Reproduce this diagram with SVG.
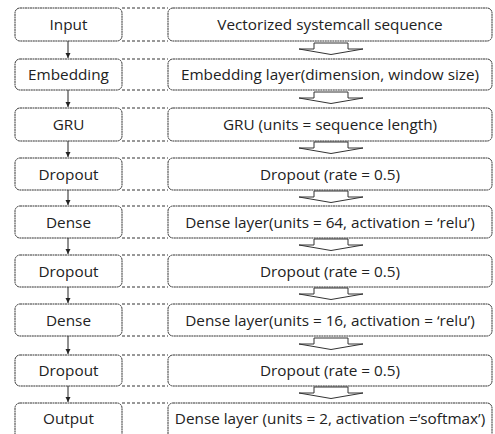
<svg xmlns="http://www.w3.org/2000/svg" width="495" height="434" viewBox="0 0 495 434">
<style>
.b{fill:#fff;stroke:#333;stroke-width:1;stroke-dasharray:2 0.5}
.d{stroke:#333;stroke-width:1;stroke-dasharray:3 2;fill:none}
.t{font-family:"Open Sans","Noto Sans",sans-serif;font-size:15.3px;fill:#222;text-anchor:middle}
.a{stroke:#222;stroke-width:1;fill:none}
.h{fill:#fff;stroke:#333;stroke-width:1}
</style>
<defs>
<path id="ha" d="M-32,0 L-17,0 L-17,-6 L17,-6 L17,0 L32,0 L0,5.5 Z"/>
</defs>
<g id="connectors">
<g class="d">
<path d="M122,8H168M122,41H168"/>
<path d="M122,59H168M122,90H168"/>
<path d="M122,108H168M122,141H168"/>
<path d="M122,158H168M122,190H168"/>
<path d="M122,206H168M122,238H168"/>
<path d="M122,255H168M122,287H168"/>
<path d="M122,304H168M122,336H168"/>
<path d="M122,355H168M122,386H168"/>
<path d="M122,403H168"/>
</g>
<g class="a">
<path d="M68,41V58"/><path d="M68,90V107"/><path d="M68,141V157"/><path d="M68,190V205"/><path d="M68,238V254"/><path d="M68,287V303"/><path d="M68,336V354"/><path d="M68,386V402"/>
</g>
<g fill="#222">
<path d="M65.5,53L70.5,53L68,58Z"/><path d="M65.5,102L70.5,102L68,107Z"/><path d="M65.5,152L70.5,152L68,157Z"/><path d="M65.5,200L70.5,200L68,205Z"/><path d="M65.5,249L70.5,249L68,254Z"/><path d="M65.5,298L70.5,298L68,303Z"/><path d="M65.5,349L70.5,349L68,354Z"/><path d="M65.5,397L70.5,397L68,402Z"/>
</g>
<g class="h">
<use href="#ha" x="331" y="49"/><use href="#ha" x="331" y="98"/><use href="#ha" x="331" y="148"/><use href="#ha" x="331" y="197"/><use href="#ha" x="331" y="245"/><use href="#ha" x="331" y="294"/><use href="#ha" x="331" y="344"/><use href="#ha" x="331" y="393"/>
</g>
</g>
<g id="n1"><rect class="b" x="15" y="8" width="107" height="33" rx="5"/><text class="t" x="68.5" y="30">Input</text></g>
<g id="n1r"><rect class="b" x="168" y="8" width="324" height="33" rx="5"/><text class="t" x="330" y="30">Vectorized systemcall sequence</text></g>
<g id="n2"><rect class="b" x="15" y="59" width="107" height="31" rx="5"/><text class="t" x="68.5" y="80">Embedding</text></g>
<g id="n2r"><rect class="b" x="168" y="59" width="324" height="31" rx="5"/><text class="t" x="330" y="80">Embedding layer(dimension, window size)</text></g>
<g id="n3"><rect class="b" x="15" y="108" width="107" height="33" rx="5"/><text class="t" x="68.5" y="130">GRU</text></g>
<g id="n3r"><rect class="b" x="168" y="108" width="324" height="33" rx="5"/><text class="t" x="330" y="130">GRU (units = sequence length)</text></g>
<g id="n4"><rect class="b" x="15" y="158" width="107" height="32" rx="5"/><text class="t" x="68.5" y="179.5">Dropout</text></g>
<g id="n4r"><rect class="b" x="168" y="158" width="324" height="32" rx="5"/><text class="t" x="330" y="179.5">Dropout (rate = 0.5)</text></g>
<g id="n5"><rect class="b" x="15" y="206" width="107" height="32" rx="5"/><text class="t" x="68.5" y="227.5">Dense</text></g>
<g id="n5r"><rect class="b" x="168" y="206" width="324" height="32" rx="5"/><text class="t" x="330" y="227.5">Dense layer(units = 64, activation = ‘relu’)</text></g>
<g id="n6"><rect class="b" x="15" y="255" width="107" height="32" rx="5"/><text class="t" x="68.5" y="276.5">Dropout</text></g>
<g id="n6r"><rect class="b" x="168" y="255" width="324" height="32" rx="5"/><text class="t" x="330" y="276.5">Dropout (rate = 0.5)</text></g>
<g id="n7"><rect class="b" x="15" y="304" width="107" height="32" rx="5"/><text class="t" x="68.5" y="325.5">Dense</text></g>
<g id="n7r"><rect class="b" x="168" y="304" width="324" height="32" rx="5"/><text class="t" x="330" y="325.5">Dense layer(units = 16, activation = ‘relu’)</text></g>
<g id="n8"><rect class="b" x="15" y="355" width="107" height="31" rx="5"/><text class="t" x="68.5" y="376">Dropout</text></g>
<g id="n8r"><rect class="b" x="168" y="355" width="324" height="31" rx="5"/><text class="t" x="330" y="376">Dropout (rate = 0.5)</text></g>
<g id="n9"><rect class="b" x="15" y="403" width="107" height="40" rx="5"/><text class="t" x="68.5" y="424">Output</text></g>
<g id="n9r"><rect class="b" x="168" y="403" width="324" height="40" rx="5"/><text class="t" x="330" y="424">Dense layer (units = 2, activation =‘softmax’)</text></g>
</svg>
